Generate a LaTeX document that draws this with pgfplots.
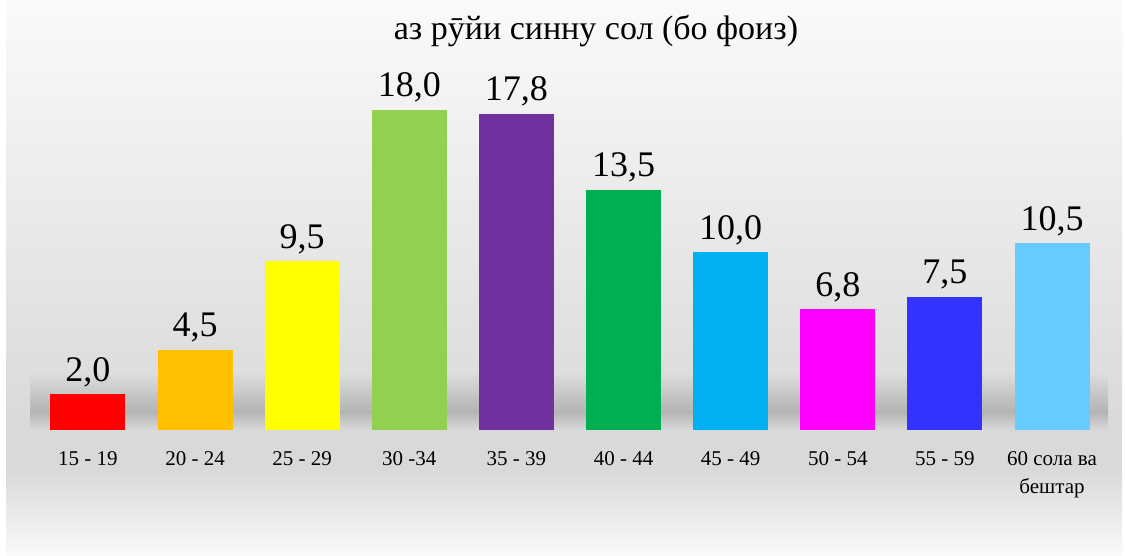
\documentclass[border=0pt]{standalone}
\usepackage{fontspec}
\setmainfont{Liberation Serif}
\usepackage{pgfplots}
\pgfplotsset{compat=1.18}
\definecolor{bgtop}{HTML}{FAFAFA}
\definecolor{bgmid}{HTML}{D9D9D9}
\definecolor{bgbot}{HTML}{FAFAFA}
\definecolor{shad}{HTML}{B4B4B4}
\definecolor{c1}{HTML}{FF0000}
\definecolor{c2}{HTML}{FFC000}
\definecolor{c3}{HTML}{FFFF00}
\definecolor{c4}{HTML}{92D050}
\definecolor{c5}{HTML}{7030A0}
\definecolor{c6}{HTML}{00B050}
\definecolor{c7}{HTML}{00B0F0}
\definecolor{c8}{HTML}{FF00FF}
\definecolor{c9}{HTML}{3333FF}
\definecolor{c10}{HTML}{66CCFF}
\begin{document}
\begin{tikzpicture}
\useasboundingbox (0,0) rectangle (562.5pt,278pt);
\fill[white] (0,0) rectangle (562.5pt,278pt);
\shade[top color=bgtop, bottom color=bgmid] (3pt,63pt) rectangle (561pt,278pt);
\fill[bgmid] (3pt,43pt) rectangle (561pt,63.2pt);
\shade[top color=bgmid, bottom color=bgbot] (3pt,0pt) rectangle (561pt,43.2pt);
\shade[top color=bgmid, bottom color=shad] (15pt,72pt) rectangle (554pt,90pt);
\shade[top color=shad, bottom color=bgmid] (15pt,63pt) rectangle (554pt,72.2pt);
\node[font=\fontsize{17}{20}\selectfont, anchor=base] at (298pt,258pt) {аз рӯйи синну сол (бо фоиз)};
\begin{axis}[
  at={(17.2pt,63pt)}, anchor=south west,
  scale only axis, width=535.6pt, height=177.8pt,
  xmin=-0.5, xmax=9.5, ymin=0, ymax=20,
  axis line style={draw=none}, ytick=\empty,
  xtick={0,...,9},
  xticklabels={15 - 19, 20 - 24, 25 - 29, 30 -34, 35 - 39, 40 - 44, 45 - 49, 50 - 54, 55 - 59, {60 сола ва\\бештар}},
  typeset ticklabels with strut,
  xticklabel style={anchor=north, align=center, font=\fontsize{10.5}{14}\selectfont, yshift=-4.6pt},
  major tick length=0pt,
  ybar, bar width=0.7,
  clip=false,
  nodes near coords,
  every node near coord/.append style={font=\fontsize{18}{20}\selectfont, anchor=base, yshift=6.5pt, text=black},
  /pgf/number format/.cd, fixed, fixed zerofill, precision=1, use comma, assume math mode=true,
]
\addplot[fill=c1, draw=none, bar shift=0pt] coordinates {(0,2.0)};
\addplot[fill=c2, draw=none, bar shift=0pt] coordinates {(1,4.5)};
\addplot[fill=c3, draw=none, bar shift=0pt] coordinates {(2,9.5)};
\addplot[fill=c4, draw=none, bar shift=0pt] coordinates {(3,18.0)};
\addplot[fill=c5, draw=none, bar shift=0pt] coordinates {(4,17.8)};
\addplot[fill=c6, draw=none, bar shift=0pt] coordinates {(5,13.5)};
\addplot[fill=c7, draw=none, bar shift=0pt] coordinates {(6,10.0)};
\addplot[fill=c8, draw=none, bar shift=0pt] coordinates {(7,6.8)};
\addplot[fill=c9, draw=none, bar shift=0pt] coordinates {(8,7.5)};
\addplot[fill=c10, draw=none, bar shift=0pt] coordinates {(9,10.5)};
\end{axis}
\end{tikzpicture}
\end{document}
